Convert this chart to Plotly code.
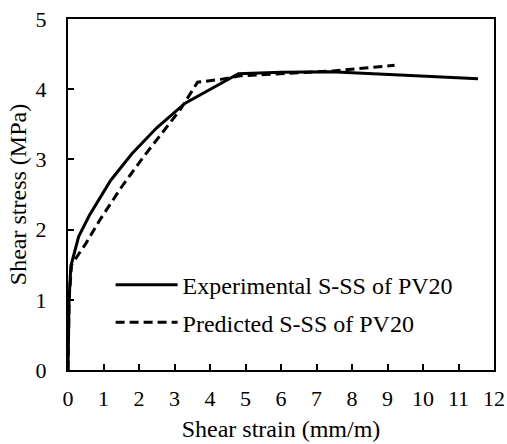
import plotly.graph_objects as go

exp_x = [0, 0.03, 0.08, 0.3, 0.6, 1.2, 1.8, 2.5, 3.3, 4.0, 4.8, 6.0, 7.4, 9.5, 11.55]
exp_y = [0, 1.0, 1.48, 1.9, 2.2, 2.7, 3.08, 3.45, 3.8, 4.0, 4.22, 4.24, 4.25, 4.2, 4.15]

pred_x = [0, 0.03, 0.1, 0.5, 0.9, 1.5, 2.1, 2.7, 3.15, 3.65, 4.3, 4.85, 6.0, 7.46, 9.2]
pred_y = [0, 1.0, 1.5, 1.8, 2.14, 2.6, 3.02, 3.4, 3.7, 4.1, 4.14, 4.19, 4.22, 4.26, 4.34]

FONT = "Liberation Serif, Times New Roman, serif"

fig = go.Figure()
fig.add_trace(go.Scatter(x=exp_x, y=exp_y, mode="lines", name="Experimental S-SS of PV20",
                         line=dict(color="black", width=3), legend="legend"))
fig.add_trace(go.Scatter(x=pred_x, y=pred_y, mode="lines", name="Predicted S-SS of PV20",
                         line=dict(color="black", width=3, dash="9px,5px"), legend="legend2"))

axis_common = dict(showline=True, linecolor="black", linewidth=2, mirror=True,
                   ticks="inside", ticklen=6, tickwidth=2, tickcolor="black",
                   showgrid=False, zeroline=False, automargin=False,
                   tickfont=dict(family=FONT, size=22, color="black"))

leg_common = dict(xanchor="left", yanchor="middle", bgcolor="rgba(0,0,0,0)",
                  font=dict(family=FONT, size=24, color="black"), itemwidth=62)

fig.update_layout(
    width=507, height=444,
    margin=dict(l=68, r=13, t=19, b=74),
    paper_bgcolor="white", plot_bgcolor="white",
    font=dict(family=FONT, size=22, color="black"),
    xaxis=dict(range=[0, 12], dtick=1, ticklabelstandoff=8,
               title=dict(text="Shear strain (mm/m)", font=dict(family=FONT, size=24), standoff=10),
               **axis_common),
    yaxis=dict(range=[0, 5], dtick=1, ticklabelstandoff=15,
               title=dict(text="Shear stress (MPa)", font=dict(family=FONT, size=24), standoff=2),
               **axis_common),
    legend=dict(x=0.1, y=0.242, **leg_common),
    legend2=dict(x=0.1, y=0.135, **leg_common),
    showlegend=True,
)

fig.write_html("out.html")
